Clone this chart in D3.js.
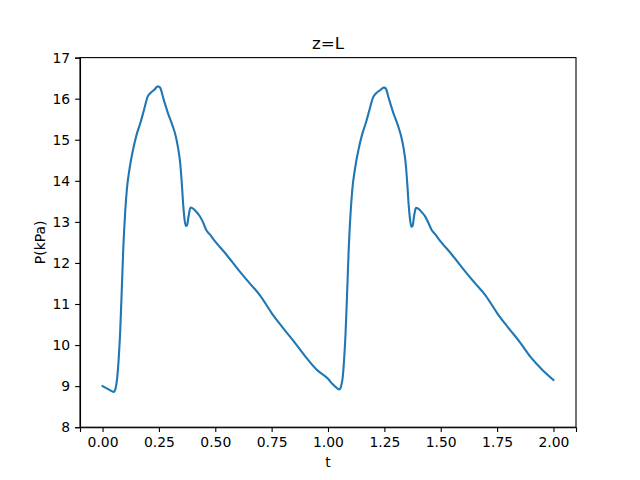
<!DOCTYPE html>
<html>
<head>
<meta charset="utf-8">
<title>z=L</title>
<style>
html, body { margin: 0; padding: 0; background: #fff; }
svg { display: block; }
svg text { font-family: 'DejaVu Sans', sans-serif; fill: #000; }
.axis text { font-size: 13.9px; }
.axis path, .axis line { stroke: #000; stroke-width: 1.1px; }
.line { fill: none; stroke: #1f77b4; stroke-width: 2.1px; stroke-linejoin: round; stroke-linecap: square; }
</style>
<script src="https://d3js.org/d3.v7.min.js"></script>
</head>
<body>
<svg width="640" height="480"></svg>
<script>

// pressure at z=L
var t = [0.00, 0.02, 0.04, 0.05, 0.058, 0.065, 0.072, 0.078, 0.085, 0.092, 0.100, 0.108, 0.120, 0.135, 0.150, 0.170, 0.185, 0.200, 0.215, 0.230, 0.245, 0.255, 0.270, 0.290, 0.310, 0.325, 0.335, 0.345, 0.352, 0.358, 0.364, 0.370, 0.375, 0.382, 0.390, 0.400, 0.415, 0.430, 0.445, 0.460, 0.475, 0.50, 0.55, 0.60, 0.65, 0.70, 0.75, 0.80, 0.85, 0.90, 0.95, 1.00,
         1.02, 1.04, 1.05, 1.058, 1.065, 1.072, 1.078, 1.085, 1.092, 1.100, 1.108, 1.120, 1.135, 1.150, 1.170, 1.185, 1.200, 1.215, 1.230, 1.248, 1.256, 1.270, 1.290, 1.310, 1.325, 1.335, 1.345, 1.352, 1.358, 1.364, 1.370, 1.375, 1.382, 1.390, 1.400, 1.415, 1.430, 1.445, 1.460, 1.475, 1.50, 1.55, 1.60, 1.65, 1.70, 1.75, 1.80, 1.85, 1.90, 1.95, 2.00];
var P = [9.00, 8.94, 8.88, 8.86, 8.95, 9.20, 9.70, 10.30, 11.30, 12.35, 13.20, 13.80, 14.30, 14.75, 15.10, 15.45, 15.75, 16.05, 16.15, 16.22, 16.30, 16.27, 16.00, 15.65, 15.35, 15.08, 14.80, 14.40, 13.90, 13.40, 13.05, 12.90, 12.92, 13.15, 13.35, 13.33, 13.25, 13.15, 13.00, 12.80, 12.70, 12.52, 12.20, 11.85, 11.52, 11.20, 10.78, 10.42, 10.08, 9.72, 9.40, 9.18,
         9.05, 8.95, 8.92, 9.00, 9.20, 9.70, 10.30, 11.30, 12.35, 13.20, 13.80, 14.30, 14.75, 15.10, 15.45, 15.75, 16.03, 16.14, 16.20, 16.27, 16.25, 16.00, 15.65, 15.35, 15.07, 14.80, 14.40, 13.90, 13.40, 13.05, 12.88, 12.90, 13.15, 13.34, 13.32, 13.24, 13.14, 12.98, 12.80, 12.70, 12.52, 12.20, 11.85, 11.52, 11.20, 10.78, 10.42, 10.08, 9.70, 9.40, 9.15];

var xTicks = [0.00, 0.25, 0.50, 0.75, 1.00, 1.25, 1.50, 1.75, 2.00];
var yTicks = [8, 9, 10, 11, 12, 13, 14, 15, 16, 17];

var svg = d3.select("svg"),
    mLeft = 80, mRight = 576, mTop = 57.6, mBottom = 427.2;

var x = d3.scaleLinear().domain([-0.1, 2.1]).range([mLeft, mRight]);
var y = d3.scaleLinear().domain([8, 17]).range([mBottom, mTop]);

var data = t.map(function(d, i) { return {t: d, p: P[i]}; });

var line = d3.line()
    .x(function(d) { return x(d.t); })
    .y(function(d) { return y(d.p); })
    .curve(d3.curveMonotoneX);

svg.append("path")
    .datum(data)
    .attr("class", "line")
    .attr("d", line);

svg.append("g")
    .attr("class", "axis")
    .attr("transform", "translate(0," + mBottom + ")")
    .call(d3.axisBottom(x).tickValues(xTicks).tickFormat(d3.format(".2f")).tickSizeOuter(0).tickSize(4.9).tickPadding(4.9));

svg.append("g")
    .attr("class", "axis")
    .attr("transform", "translate(" + mLeft + ",0)")
    .call(d3.axisLeft(y).tickValues(yTicks).tickFormat(d3.format("d")).tickSizeOuter(0).tickSize(4.9).tickPadding(4.9));

// frame
svg.append("rect")
    .attr("x", mLeft).attr("y", mTop)
    .attr("width", mRight - mLeft).attr("height", mBottom - mTop)
    .attr("fill", "none").attr("stroke", "#000").attr("stroke-width", 1.1);

svg.append("text")
    .attr("x", (mLeft + mRight) / 2).attr("y", 49)
    .attr("text-anchor", "middle")
    .style("font-size", "16.7px")
    .text("z=L");

svg.append("text")
    .attr("x", (mLeft + mRight) / 2).attr("y", 467)
    .attr("text-anchor", "middle")
    .style("font-size", "13.9px")
    .text("t");

svg.append("text")
    .attr("transform", "translate(45," + ((mTop + mBottom) / 2) + ") rotate(-90)")
    .attr("text-anchor", "middle")
    .style("font-size", "13.9px")
    .text("P(kPa)");

</script>
</body>
</html>
